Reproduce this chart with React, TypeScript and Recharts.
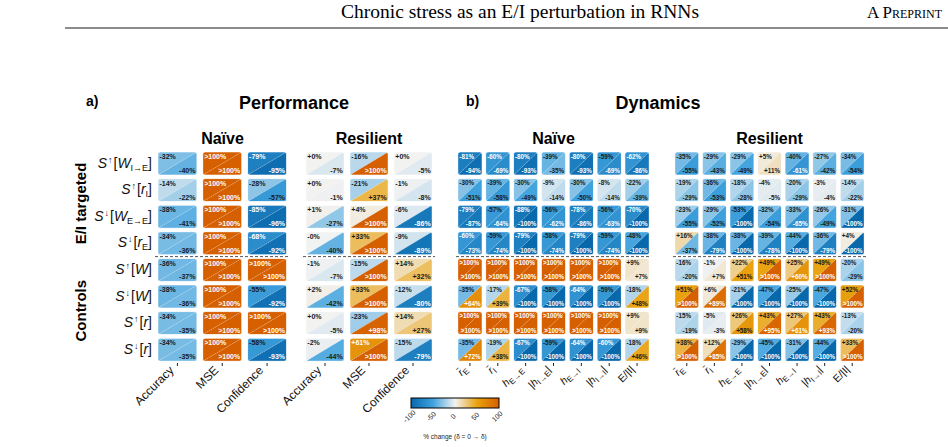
import React from 'react';
import { ScatterChart, Scatter, XAxis, YAxis, ReferenceLine } from 'recharts';

// Saturated entries are drawn at the colour-scale limit and labelled ">100%".
const OVER = 101;

const perfMetrics = ['Accuracy', 'MSE', 'Confidence'];

type Sym = { main: string; sub?: string; abs?: boolean; italic?: boolean };
const dynMetrics: Sym[] = [
  { main: 'r\u0304', sub: 'E', italic: true },
  { main: 'r\u0304', sub: 'I', italic: true },
  { main: 'h', sub: 'E→E', italic: true },
  { main: 'h', sub: 'I→E', italic: true, abs: true },
  { main: 'h', sub: 'E→I', italic: true },
  { main: 'h', sub: 'I→I', italic: true, abs: true },
  { main: 'E/|I|' },
];

const conditions = [
  { dir: '↑', arg: 'W', sub: 'I→E' },
  { dir: '↑', arg: 'r', sub: 'I' },
  { dir: '↓', arg: 'W', sub: 'E→E' },
  { dir: '↓', arg: 'r', sub: 'E' },
  { dir: '↑', arg: 'W' },
  { dir: '↓', arg: 'W' },
  { dir: '↑', arg: 'r' },
  { dir: '↓', arg: 'r' },
];

// Each cell is split along its diagonal: upper-left triangle and lower-right triangle.
const perfNaiveUpper = [
  [-32, OVER, -79],
  [-14, OVER, -28],
  [-38, OVER, -85],
  [-34, OVER, -68],
  [-36, OVER, OVER],
  [-38, OVER, -55],
  [-34, OVER, OVER],
  [-34, OVER, -58],
];
const perfNaiveLower = [
  [-40, OVER, -95],
  [-22, OVER, -57],
  [-41, OVER, -96],
  [-36, OVER, -92],
  [-37, OVER, OVER],
  [-36, OVER, -92],
  [-35, OVER, OVER],
  [-35, OVER, -93],
];
const perfResilientUpper = [
  [0.2, -16, 0.2],
  [0.2, -21, -1],
  [1, 4, -6],
  [-0.3, 33, -9],
  [-1, -15, 14],
  [2, 33, -12],
  [0.2, -23, 14],
  [-2, 61, -15],
];
const perfResilientLower = [
  [-7, OVER, -5],
  [-1, 37, -8],
  [-27, OVER, -86],
  [-40, OVER, -89],
  [-7, OVER, 32],
  [-42, OVER, -80],
  [-5, 98, 27],
  [-44, OVER, -79],
];
const dynNaiveUpper = [
  [-81, -60, -80, -39, -80, -59, -62],
  [-30, -39, -30, -9, -30, -8, -22],
  [-79, -57, -88, -56, -78, -56, -70],
  [-60, -59, -79, -58, -79, -59, -48],
  [OVER, OVER, OVER, OVER, OVER, OVER, 9],
  [-35, -17, -67, -58, -64, -59, -18],
  [OVER, OVER, OVER, OVER, OVER, OVER, 9],
  [-35, -19, -67, -59, -64, -60, -18],
];
const dynNaiveLower = [
  [-94, -69, -93, -35, -93, -69, -86],
  [-51, -58, -49, -14, -50, -14, -39],
  [-87, -64, -100, -62, -86, -63, -100],
  [-73, -74, -100, -74, -100, -74, -100],
  [OVER, OVER, OVER, OVER, OVER, OVER, 7],
  [64, 39, -100, -100, -100, -100, 48],
  [OVER, OVER, OVER, OVER, OVER, OVER, 9],
  [72, 38, -100, -100, -100, -100, 46],
];
const dynResilientUpper = [
  [-35, -29, -29, 5, -40, -27, -34],
  [-19, -36, -18, -4, -20, -3, -14],
  [-23, -29, -53, -32, -33, -26, -31],
  [16, -38, -38, -39, -44, -36, 4],
  [-16, -1, 22, 49, 25, 49, -20],
  [51, 6, -21, -47, -25, -47, 52],
  [-15, -5, 26, 43, 27, 43, -13],
  [38, 12, -29, -45, -31, -44, 33],
];
const dynResilientLower = [
  [-55, -43, -49, 11, -61, -42, -54],
  [-29, -53, -28, -5, -29, -4, -22],
  [-55, -52, -100, -54, -65, -49, -100],
  [-37, -79, -100, -78, -100, -79, -100],
  [-20, 7, 51, OVER, 60, OVER, -29],
  [OVER, 89, -100, -100, -100, -100, OVER],
  [-19, -3, 58, 95, 61, 93, -20],
  [OVER, 85, -100, -100, -100, -100, OVER],
];

const colorbarTicks = [-100, -50, 0, 50, 100];

// Diverging scale: blue (decrease) -> light grey -> orange (increase)
const colorStops: [number, number[]][] = [
  [-100, [8, 104, 172]],
  [-50, [63, 162, 222]],
  [0, [242, 242, 242]],
  [50, [233, 162, 14]],
  [100, [214, 95, 0]],
];

const toHex = (c: number[]) =>
  '#' + c.map((v) => Math.round(v).toString(16).padStart(2, '0')).join('');

function colorFor(v: number) {
  const x = Math.max(-100, Math.min(100, v));
  for (let i = 0; i < colorStops.length - 1; i++) {
    const [a, ca] = colorStops[i];
    const [b, cb] = colorStops[i + 1];
    if (x >= a && x <= b) {
      const t = (x - a) / (b - a);
      return toHex(ca.map((c, k) => c + (cb[k] - c) * t));
    }
  }
  return toHex(colorStops[colorStops.length - 1][1]);
}

const textColorFor = (v: number) => (Math.abs(v) >= 60 ? '#ffffff' : '#1a1a1a');

function fmt(v: number) {
  if (v > 100) return '>100%';
  const sign = v < 0 ? '-' : '+';
  return `${sign}${Math.round(Math.abs(v))}%`;
}

const SANS = 'Liberation Sans, Arial, sans-serif';
const SERIF = 'Liberation Serif, Times New Roman, serif';
const PLOT_TOP = 150.2;
const PLOT_BOTTOM = 363;
const H = 447;

function SplitCell(props: any) {
  const { cx, cy, payload, cw, ch, fs, pid } = props;
  if (cx == null || cy == null) return null;
  const L = cx - cw / 2;
  const T = cy - ch / 2;
  const R = cx + cw / 2;
  const B = cy + ch / 2;
  const id = `clip-${pid}-${payload.row}-${payload.col}`;
  return (
    <g>
      <defs>
        <clipPath id={id}>
          <rect x={L} y={T} width={cw} height={ch} rx={2.5} ry={2.5} />
        </clipPath>
      </defs>
      <g clipPath={`url(#${id})`}>
        <polygon points={`${L},${T} ${R},${T} ${L},${B}`} fill={colorFor(payload.upper)} />
        <polygon points={`${R},${T} ${R},${B} ${L},${B}`} fill={colorFor(payload.lower)} />
        <line
          x1={L}
          y1={B}
          x2={R}
          y2={T}
          stroke="rgba(255,255,255,0.5)"
          strokeWidth={0.6}
          strokeDasharray="1.2 1.2"
        />
      </g>
      <rect
        x={L}
        y={T}
        width={cw}
        height={ch}
        rx={2.5}
        ry={2.5}
        fill="none"
        stroke="rgba(255,255,255,0.7)"
        strokeWidth={0.8}
      />
      <text
        x={L + 1.5}
        y={T + fs + 0.3}
        fontSize={fs}
        fontWeight="bold"
        fontFamily={SANS}
        fill={textColorFor(payload.upper)}
      >
        {fmt(payload.upper)}
      </text>
      <text
        x={R - 1.5}
        y={B - 2}
        fontSize={fs}
        fontWeight="bold"
        fontFamily={SANS}
        textAnchor="end"
        fill={textColorFor(payload.lower)}
      >
        {fmt(payload.lower)}
      </text>
    </g>
  );
}

function MetricTick(props: any) {
  const { x, y, payload, kind } = props;
  const idx = Math.round(payload.value);
  if (kind === 'perf') {
    return (
      <g transform={`translate(${x - 3},${y + 3})`}>
        <text
          transform="rotate(-45)"
          textAnchor="end"
          fontSize={12}
          fontFamily={SANS}
          fill="#111"
        >
          {perfMetrics[idx]}
        </text>
      </g>
    );
  }
  const s = dynMetrics[idx];
  return (
    <g transform={`translate(${x - 2},${y + 2})`}>
      <text transform="rotate(-45)" textAnchor="end" fontSize={10.5} fontFamily={SANS} fill="#111">
        {s.abs ? <tspan>|</tspan> : null}
        <tspan fontStyle={s.italic ? 'italic' : 'normal'}>{s.main}</tspan>
        {s.sub ? (
          <tspan fontSize={8} dy={2.5}>
            {s.sub}
          </tspan>
        ) : null}
        {s.abs ? <tspan dy={s.sub ? -2.5 : 0}>|</tspan> : null}
      </text>
    </g>
  );
}

function ConditionTick(props: any) {
  const { x, y, payload } = props;
  const c = conditions[Math.round(payload.value)];
  return (
    <text x={x} y={y} dy={4} textAnchor="end" fontSize={14} fontFamily={SANS} fill="#111">
      <tspan fontStyle="italic">S</tspan>
      <tspan fontSize={9} dy={-5} dx={1}>
        {c.dir}
      </tspan>
      <tspan dy={5} dx={1}>
        [
      </tspan>
      <tspan fontStyle="italic">{c.arg}</tspan>
      {c.sub ? (
        <tspan fontSize={9} dy={3}>
          {c.sub}
        </tspan>
      ) : null}
      <tspan dy={c.sub ? -3 : 0}>]</tspan>
    </text>
  );
}

type PanelCfg = {
  id: string;
  plotLeft: number;
  plotRight: number;
  upper: number[][];
  lower: number[][];
  kind: 'perf' | 'dyn';
  rowAxis?: boolean;
};

const panels: PanelCfg[] = [
  { id: 'pn', plotLeft: 155, plotRight: 289.5, upper: perfNaiveUpper, lower: perfNaiveLower, kind: 'perf', rowAxis: true },
  { id: 'pr', plotLeft: 303, plotRight: 435, upper: perfResilientUpper, lower: perfResilientLower, kind: 'perf' },
  { id: 'dn', plotLeft: 456, plotRight: 651, upper: dynNaiveUpper, lower: dynNaiveLower, kind: 'dyn' },
  { id: 'dr', plotLeft: 673, plotRight: 866, upper: dynResilientUpper, lower: dynResilientLower, kind: 'dyn' },
];

const range = (n: number) => Array.from({ length: n }, (_, i) => i);

function Panel({ cfg }: { cfg: PanelCfg }) {
  const { id, plotLeft, plotRight, upper, lower, kind, rowAxis } = cfg;
  const n = upper[0].length;
  const padL = rowAxis ? plotLeft : 90;
  const boxLeft = plotLeft - padL;
  const padR = 12;
  const width = plotRight - boxLeft + padR;
  const colPitch = (plotRight - plotLeft) / n;
  const rowPitch = (PLOT_BOTTOM - PLOT_TOP) / 8;
  const cw = colPitch * 0.87;
  const ch = rowPitch * 0.865;
  const data: any[] = [];
  upper.forEach((r, ri) =>
    r.forEach((v, ci) => data.push({ col: ci, row: ri, upper: v, lower: lower[ri][ci] }))
  );
  return (
    <div style={{ position: 'absolute', left: boxLeft, top: 0 }}>
      <ScatterChart
        width={width}
        height={H}
        margin={{ top: PLOT_TOP, right: padR, bottom: 0, left: rowAxis ? 0 : padL }}
      >
        <XAxis
          type="number"
          dataKey="col"
          domain={[-0.5, n - 0.5]}
          ticks={range(n)}
          interval={0}
          height={H - PLOT_BOTTOM}
          axisLine={false}
          tickSize={3}
          tickMargin={2}
          tickLine={{ stroke: '#222', strokeWidth: 1 }}
          tick={(p: any) => <MetricTick {...p} kind={kind} />}
        />
        <YAxis
          type="number"
          dataKey="row"
          domain={[-0.5, 7.5]}
          reversed
          ticks={range(8)}
          interval={0}
          hide={!rowAxis}
          width={rowAxis ? plotLeft : 0}
          axisLine={false}
          tickLine={false}
          tickSize={0}
          tickMargin={3}
          tick={(p: any) => <ConditionTick {...p} />}
        />
        <ReferenceLine y={3.5} stroke="#555" strokeWidth={1} strokeDasharray="3 2" />
        <Scatter
          data={data}
          isAnimationActive={false}
          shape={(p: any) => (
            <SplitCell {...p} cw={cw} ch={ch} fs={kind === 'perf' ? 7 : 6.3} pid={id} />
          )}
        />
      </ScatterChart>
    </div>
  );
}

// Colour bar geometry
const CB_X0 = 411;
const CB_X1 = 499;
const CB_Y = 398;
const CB_H = 10;
const cbX = (v: number) => CB_X0 + ((v + 100) / 200) * (CB_X1 - CB_X0);

function Overlay() {
  return (
    <svg width={948} height={H} style={{ position: 'absolute', left: 0, top: 0 }}>
      <text x={520} y={18} textAnchor="middle" fontSize={19.5} fontFamily={SERIF} fill="#000">
        Chronic stress as an E/I perturbation in RNNs
      </text>
      <text
        x={942}
        y={18}
        textAnchor="end"
        fontSize={17}
        fontFamily={SERIF}
        style={{ fontVariant: 'small-caps' }}
        fill="#000"
      >
        A Preprint
      </text>
      <line x1={65} x2={948} y1={28} y2={28} stroke="#000" strokeWidth={0.9} />

      <g fontFamily={SANS} fontWeight="bold" fill="#000">
        <text x={86} y={106} fontSize={14}>a)</text>
        <text x={466} y={106} fontSize={14}>b)</text>
        <text x={294} y={109} fontSize={18} textAnchor="middle">Performance</text>
        <text x={658} y={109} fontSize={18} textAnchor="middle">Dynamics</text>
        <text x={222.5} y={144} fontSize={16} textAnchor="middle">Naïve</text>
        <text x={369} y={144} fontSize={16} textAnchor="middle">Resilient</text>
        <text x={553.5} y={144} fontSize={16} textAnchor="middle">Naïve</text>
        <text x={769.5} y={144} fontSize={16} textAnchor="middle">Resilient</text>
        <text transform="translate(86,203.5) rotate(-90)" fontSize={15} textAnchor="middle">
          E/I targeted
        </text>
        <text transform="translate(86,310.7) rotate(-90)" fontSize={15} textAnchor="middle">
          Controls
        </text>
      </g>

      <defs>
        <linearGradient id="cbar" x1="0" x2="1" y1="0" y2="0">
          {colorStops.map(([v, c]) => (
            <stop key={v} offset={(v + 100) / 200} stopColor={toHex(c)} />
          ))}
        </linearGradient>
      </defs>
      <rect x={CB_X0} y={CB_Y} width={CB_X1 - CB_X0} height={CB_H} fill="url(#cbar)" stroke="#000" strokeWidth={1} />
      {colorbarTicks.map((t) => (
        <text
          key={t}
          transform={`translate(${cbX(t)},${CB_Y + CB_H + 10}) rotate(-45)`}
          textAnchor="middle"
          fontSize={7}
          fontFamily={SANS}
          fill="#222"
        >
          {t}
        </text>
      ))}
      <text x={455} y={439} textAnchor="middle" fontSize={6.5} fontFamily={SANS} fill="#222">
        % change (δ = 0 → δ)
      </text>
    </svg>
  );
}

export default function App() {
  return (
    <div style={{ position: 'absolute', left: 0, top: 0, width: 948, height: H, background: '#fff' }}>
      <Overlay />
      {panels.map((p) => (
        <Panel key={p.id} cfg={p} />
      ))}
    </div>
  );
}
